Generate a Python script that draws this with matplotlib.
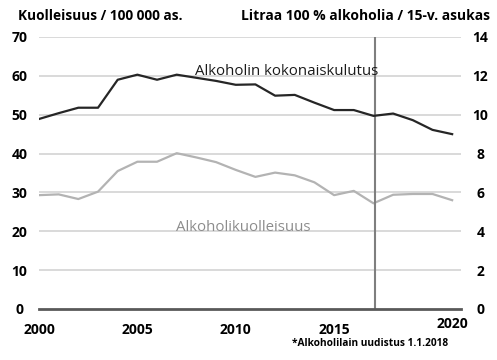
import matplotlib
matplotlib.use("Agg")
import matplotlib.pyplot as plt
from matplotlib.transforms import offset_copy

years = list(range(2000, 2022))
consumption = [9.78, 10.08, 10.36, 10.36, 11.8, 12.06, 11.8, 12.06, 11.9, 11.74, 11.54, 11.56,
               10.98, 11.02, 10.62, 10.24, 10.24, 9.94, 10.06, 9.72, 9.22, 9.0]
mortality = [29.3, 29.5, 28.3, 30.2, 35.5, 37.9, 37.9, 40.1, 39.0, 37.8, 35.8, 34.0,
             35.1, 34.4, 32.6, 29.3, 30.4, 27.2, 29.4, 29.6, 29.6, 28.0]
left_ticks = [0, 10, 20, 30, 40, 50, 60, 70]
right_ticks = [0, 2, 4, 6, 8, 10, 12, 14]
xtick_pos = [2000, 2005, 2010, 2015]
xtick_labels = ["2000", "2005", "2010", "2015"]
last_tick_pos = 2021
last_tick_label = "2020"
reform_x = 2017.1

plt.rcParams['font.family'] = ['Open Sans', 'DejaVu Sans']

fig = plt.figure(figsize=(4.97, 3.6), dpi=100)
ax = fig.add_axes([39/497, 1-309/360, (461-39)/497, (309-37)/360])
ax2 = ax.twinx()

ax.set_ylim(0, 70)
ax2.set_ylim(0, 14)
ax.set_xlim(2000, 2021.45)

for t in left_ticks[1:]:
    ax.axhline(t, color="#d9d9d9", lw=1.4, zorder=0)

ax.plot(years, mortality, color="#b3b3b3", lw=1.6, zorder=3)
ax2.plot(years, consumption, color="#262626", lw=1.6, zorder=3)
ax.axvline(reform_x, color="#7f7f7f", lw=1.5, zorder=4)
ax.axhline(0, color="#595959", lw=2, zorder=5, clip_on=False)

for a in (ax, ax2):
    for s in a.spines.values():
        s.set_visible(False)
    a.tick_params(length=0)

ax.set_yticks(left_ticks)
ax.set_yticklabels([str(v) for v in left_ticks], fontsize=10, fontweight="bold")
ax.tick_params(axis="y", pad=14)
for lbl in ax.get_yticklabels():
    lbl.set_horizontalalignment("center")
ax2.set_yticks(right_ticks)
ax2.set_yticklabels([str(v) for v in right_ticks], fontsize=10, fontweight="bold")
ax2.tick_params(axis="y", pad=14)
for lbl in ax2.get_yticklabels():
    lbl.set_horizontalalignment("center")

ax.set_xticks(xtick_pos)
ax.set_xticklabels(xtick_labels, fontsize=10, fontweight="bold")
ax.tick_params(axis="x", pad=10)
ax.text(last_tick_pos, 0, last_tick_label, fontsize=10, fontweight="bold",
        ha="center", va="top",
        transform=offset_copy(ax.get_xaxis_transform(), fig=fig, x=0, y=-6, units="points"))

ax2.text(2007.95, 12.2, "Alkoholin kokonaiskulutus", fontsize=10.8, color="#1a1a1a",
         ha="left", va="center")
ax.text(2006.95, 20.9, "Alkoholikuolleisuus", fontsize=10.8, color="#8c8c8c",
        ha="left", va="center")

fig.text(18/497, 1-16/360, "Kuolleisuus / 100 000 as.", fontsize=9.8, fontweight="bold",
         ha="left", va="center")
fig.text(490/497, 1-16/360, "Litraa 100 % alkoholia / 15-v. asukas", fontsize=10,
         fontweight="bold", ha="right", va="center")
fig.text(448/497, 1-343/360, "*Alkoholilain uudistus 1.1.2018", fontsize=7.3,
         fontweight="bold", ha="right", va="center")

fig.savefig("out.png", dpi=100)
